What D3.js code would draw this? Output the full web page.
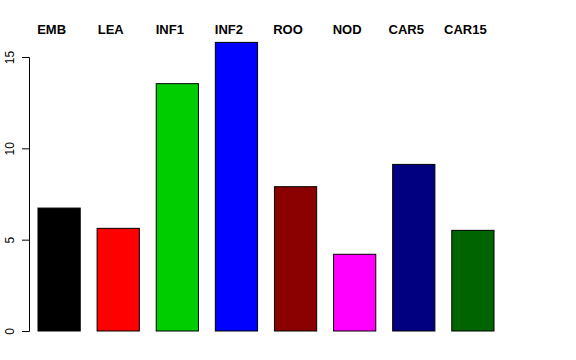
<!DOCTYPE html>
<html>
<head>
<meta charset="utf-8">
<script src="https://cdn.jsdelivr.net/npm/d3@7"></script>
<style>
  body { margin: 0; background: #fff; }
  text { font-family: "Liberation Sans", Arial, sans-serif; }
</style>
</head>
<body>
<div id="chart"></div>
<script>
// data
const categories = ['EMB', 'LEA', 'INF1', 'INF2', 'ROO', 'NOD', 'CAR5', 'CAR15'];
const values = [6.73, 5.62, 13.54, 15.8, 7.9, 4.2, 9.12, 5.51];
const barColors = ['#000000', '#ff0000', '#00cd00', '#0000ff', '#8b0000', '#ff00ff', '#000080', '#006400'];
const yTicks = [0, 5, 10, 15];

const w = 576;
const h = 360;

// R barplot style: width 1, space 0.4
const xScale = d3.scaleLinear()
  .domain([0.4, 11.2])
  .range([38, 494]);

const yScale = d3.scaleLinear()
  .domain([0, 15])
  .range([331, 57]);

let svg = d3.select('#chart')
  .append('svg')
  .attr('width', w)
  .attr('height', h)
  .style('background-color', '#fff');

svg.selectAll('rect')
  .data(values)
  .enter()
  .append('rect')
  .attr('x', (d, i) => xScale(0.4 + 1.4 * i))
  .attr('y', (d) => yScale(d))
  .attr('width', xScale(1.4) - xScale(0.4))
  .attr('height', (d) => yScale(0) - yScale(d))
  .attr('fill', (d, i) => barColors[i])
  .attr('stroke', '#000')
  .attr('stroke-width', 1);

// labels above the bars (sit a bit left of bar centre, like the original)
svg.selectAll('.lab')
  .data(categories)
  .enter()
  .append('text')
  .attr('class', 'lab')
  .attr('x', (d, i) => xScale(0.9 + 1.4 * i) - 7.5)
  .attr('y', 34)
  .attr('text-anchor', 'middle')
  .style('font-size', '13px')
  .style('font-weight', 'bold')
  .text((d) => d);

const yAxis = d3.axisLeft(yScale).tickValues(yTicks).tickSize(7).tickFormat(d3.format('d'));

let gy = svg.append('g')
  .attr('transform', 'translate(29, 0)')
  .call(yAxis);

gy.select('.domain').attr('stroke', '#000');
gy.selectAll('.tick line').attr('stroke', '#000');
gy.selectAll('.tick text')
  .attr('x', null)
  .attr('dy', null)
  .attr('text-anchor', 'middle')
  .attr('fill', '#000')
  .style('font-size', '12px')
  .style('font-family', '"Liberation Sans", Arial, sans-serif')
  .attr('transform', 'translate(-15, 0) rotate(-90)');
</script>
</body>
</html>
